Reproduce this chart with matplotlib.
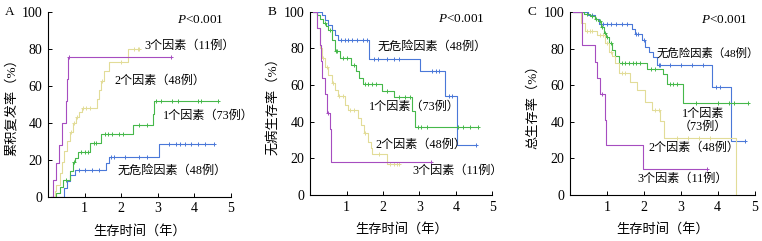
import numpy as np
import matplotlib
matplotlib.use('Agg')
import matplotlib.pyplot as plt

plt.rcParams['font.family'] = ['Liberation Serif', 'Noto Sans CJK SC']
plt.rcParams['mathtext.fontset'] = 'custom'
plt.rcParams['mathtext.it'] = 'Liberation Serif:italic'
plt.rcParams['mathtext.rm'] = 'Liberation Serif'

# colours per group
c_none = '#4a78d8'
c_one = '#46b84a'
c_two = '#e2dc98'
c_three = '#a64dc0'

groups = ['无危险因素（48例）', '1个因素（73例）', '2个因素（48例）', '3个因素（11例）']

# ---- A: cumulative recurrence (start 0) ----
A_none_t = [0.45, 0.51, 0.59, 0.75, 1.60, 1.67, 3.05]
A_none_v = [4.7, 8.3, 12, 14.6, 18, 21.5, 28.6]
A_none_end = 4.55
A_none_cens = [0.85, 1.0, 1.2, 1.4, 1.72, 1.8, 2.1, 2.5, 2.7, 3.3, 3.5, 3.6, 3.75, 3.9, 4.1, 4.3, 4.55]

A_one_t = [0.23, 0.32, 0.41, 0.60, 0.68, 0.75, 0.81, 1.15, 1.44, 2.32, 2.86, 2.91]
A_one_v = [2, 5, 9, 14, 19, 21, 24, 29, 34, 39, 45, 52]
A_one_end = 4.66
A_one_cens = [0.5, 0.72, 0.9, 1.0, 1.1, 1.25, 1.3, 1.55, 1.65, 1.75, 1.95, 2.05, 2.5, 2.7, 2.95, 3.1, 3.4, 3.55, 4.1, 4.2, 4.66]

A_two_t = [0.18, 0.23, 0.32, 0.39, 0.45, 0.51, 0.59, 0.68, 0.77, 0.86, 0.93, 1.35, 1.40, 1.44, 1.53, 1.67, 2.20]
A_two_v = [3, 6.5, 13, 19, 25, 30, 35, 40, 43, 46, 48, 53, 58, 63, 68, 73, 80]
A_two_end = 2.5
A_two_cens = [0.62, 0.7, 0.8, 0.97, 1.05, 1.15, 1.47, 2.0, 2.35, 2.45, 2.5]

A_three_t = [0.14, 0.23, 0.30, 0.39, 0.50, 0.53, 0.55]
A_three_v = [9, 18, 28, 40, 52, 64, 76]
A_three_end = 3.36
A_three_cens = [0.58, 3.36]

# ---- B: disease-free survival (start 100) ----
B_none_t = [0.32, 0.41, 0.50, 0.59, 0.68, 0.77, 1.62, 3.02, 3.70, 4.03]
B_none_v = [98, 95.6, 93, 90, 87.5, 84.4, 74.4, 67.5, 53.8, 27.5]
B_none_end = 4.55
B_none_cens = [0.85, 0.95, 1.05, 1.15, 1.3, 1.45, 1.55, 1.75, 1.85, 2.1, 2.3, 2.45, 3.35, 3.45, 3.55, 3.8, 3.9, 4.55]

B_one_t = [0.18, 0.27, 0.36, 0.43, 0.50, 0.59, 0.68, 0.81, 1.13, 1.26, 1.35, 1.44, 1.98, 2.30, 2.79, 2.88]
B_one_v = [98, 96, 94, 92, 90, 84.7, 78.7, 74.7, 71, 67.5, 63.8, 60.5, 57, 53.3, 45.6, 37]
B_one_end = 4.6
B_one_cens = [0.4, 0.55, 0.7, 0.75, 0.9, 1.0, 1.2, 1.5, 1.6, 1.7, 1.8, 2.1, 2.45, 2.6, 2.75, 2.95, 3.05, 3.2, 4.05, 4.2, 4.4, 4.6]

B_two_t = [0.18, 0.27, 0.32, 0.41, 0.50, 0.59, 0.68, 0.77, 0.95, 1.04, 1.31, 1.40, 1.49, 1.58, 1.67, 1.71, 2.12]
B_two_v = [91, 80, 75, 70, 65.6, 61, 57.5, 53.8, 49, 46.5, 42, 38, 34, 29, 25.6, 22.4, 17]
B_two_end = 2.45
B_two_cens = [0.35, 0.45, 0.62, 0.8, 0.9, 1.1, 1.2, 1.52, 1.9, 2.2, 2.3, 2.38, 2.45]

B_three_t = [0.18, 0.27, 0.30, 0.32, 0.41, 0.47, 0.54, 0.56]
B_three_v = [91, 82, 73, 64, 55, 45, 36, 18]
B_three_end = 3.32
B_three_cens = [0.5, 3.32]

# ---- C: overall survival (start 100) ----
C_none_t = [0.50, 0.68, 0.78, 1.68, 1.77, 1.95, 2.04, 2.13, 2.26, 2.35, 3.84, 4.36]
C_none_v = [98.5, 96.5, 93.5, 91, 88, 85, 81, 78.5, 75.5, 71, 59, 29.5]
C_none_end = 4.75
C_none_cens = [0.6, 0.9, 1.0, 1.1, 1.25, 1.4, 1.55, 1.8, 1.85, 2.0, 2.4, 2.45, 2.7, 3.0, 3.3, 3.6, 3.95, 4.05, 4.75]

C_one_t = [0.37, 0.55, 0.68, 0.77, 0.84, 0.91, 0.98, 1.05, 1.14, 1.23, 1.32, 2.08, 2.53, 2.62, 3.07]
C_one_v = [99, 98, 96.5, 95, 92, 88.5, 86.5, 83, 79.5, 76, 72.5, 69, 66, 61, 50.4]
C_one_end = 4.82
C_one_cens = [0.45, 0.6, 0.7, 0.8, 0.88, 0.95, 1.0, 1.1, 1.4, 1.5, 1.6, 1.7, 1.8, 1.9, 2.2, 2.3, 2.7, 2.8, 2.9, 3.4, 4.0, 4.3, 4.45, 4.82]

C_two_t = [0.30, 0.40, 0.73, 0.95, 1.05, 1.14, 1.23, 1.32, 1.63, 1.81, 2.04, 2.22, 2.44, 2.55, 4.49]
C_two_v = [94, 90, 87.5, 83, 78.5, 76, 72, 66.7, 62, 57.6, 51, 46.7, 40.5, 31, 0]
C_two_end = 4.49
C_two_cens = [0.45, 0.55, 0.6, 0.8, 0.9, 1.0, 1.1, 1.4, 1.5, 2.3, 2.4, 2.9, 3.2, 3.5, 3.8]

C_three_t = [0.33, 0.68, 0.72, 0.80, 0.95, 0.98, 1.97]
C_three_v = [82, 73, 64, 55, 41, 27.5, 14]
C_three_end = 3.7
C_three_cens = [0.86, 3.7]

panels = [
    dict(letter='A', ylabel='累积复发率（%）', v0=0,
         curves=[(A_none_t, A_none_v, A_none_end, A_none_cens, c_none),
                 (A_one_t, A_one_v, A_one_end, A_one_cens, c_one),
                 (A_two_t, A_two_v, A_two_end, A_two_cens, c_two),
                 (A_three_t, A_three_v, A_three_end, A_three_cens, c_three)],
         labels=[(1.89, 14, groups[0], 'left', 8.7), (3.15, 44, groups[1], 'left', 8.7),
                 (1.82, 63, groups[2], 'left', 8.7), (2.65, 82, groups[3], 'left', 8.7)],
         pos=[0.063, 0.184, 0.2398, 0.765]),
    dict(letter='B', ylabel='无病生存率（%）', v0=100,
         curves=[(B_none_t, B_none_v, B_none_end, B_none_cens, c_none),
                 (B_one_t, B_one_v, B_one_end, B_one_cens, c_one),
                 (B_two_t, B_two_v, B_two_end, B_two_cens, c_two),
                 (B_three_t, B_three_v, B_three_end, B_three_cens, c_three)],
         labels=[(1.86, 81, groups[0], 'left', 8.7), (1.62, 48, groups[1], 'left', 8.7),
                 (1.80, 27.5, groups[2], 'left', 8.7), (2.81, 13, groups[3], 'left', 8.7)],
         pos=[0.407, 0.191, 0.239, 0.76]),
    dict(letter='C', ylabel='总生存率（%）', v0=100,
         curves=[(C_none_t, C_none_v, C_none_end, C_none_cens, c_none),
                 (C_one_t, C_one_v, C_one_end, C_one_cens, c_one),
                 (C_two_t, C_two_v, C_two_end, C_two_cens, c_two),
                 (C_three_t, C_three_v, C_three_end, C_three_cens, c_three)],
         labels=[(2.33, 77.5, groups[0], 'left', 8.2), (3.6, 41, '1个因素\n（73例）', 'center', 8.7),
                 (2.13, 26, groups[2], 'left', 8.7), (1.82, 9, groups[3], 'left', 8.7)],
         pos=[0.748, 0.191, 0.2424, 0.758]),
]

fig = plt.figure(figsize=(7.62, 2.41), dpi=100)

for p in panels:
    ax = fig.add_axes(p['pos'])
    for t, v, end, cens, col in p['curves']:
        xs = np.array([0.08] + t + [end])
        lev = np.array([p['v0']] + v)
        ys = np.append(lev, lev[-1])
        ax.step(xs, ys, where='post', color=col, lw=0.8)
        idx = np.searchsorted(np.array(t), cens, side='right')
        ax.plot(cens, lev[idx], '+', color=col, ms=3, mew=0.7, ls='none')
    for x, y, s, ha, fs in p['labels']:
        ax.text(x, y, s, fontsize=fs, ha=ha, va='center', clip_on=False,
                multialignment='center', linespacing=1.1)
    ax.text(4.8, 96, '$P$<0.001', fontsize=9.5, ha='right', va='center')
    ax.set_xlim(0, 5)
    ax.set_ylim(0, 100)
    ax.set_xticks([1, 2, 3, 4, 5])
    ax.set_yticks([0, 20, 40, 60, 80, 100])
    ax.tick_params(direction='in', length=3, width=0.7, labelsize=10, pad=4)
    ax.spines['top'].set_visible(False)
    ax.spines['right'].set_visible(False)
    for s in ['left', 'bottom']:
        ax.spines[s].set_linewidth(0.8)
    ax.set_ylabel(p['ylabel'], fontsize=9.5, labelpad=3)
    ax.set_xlabel('生存时间（年）', fontsize=9.5, labelpad=7)
    bb = p['pos']
    fig.text(bb[0] - 0.056, 0.975, p['letter'], fontsize=9.5, ha='left', va='top')

fig.savefig('out.png', dpi=100)
